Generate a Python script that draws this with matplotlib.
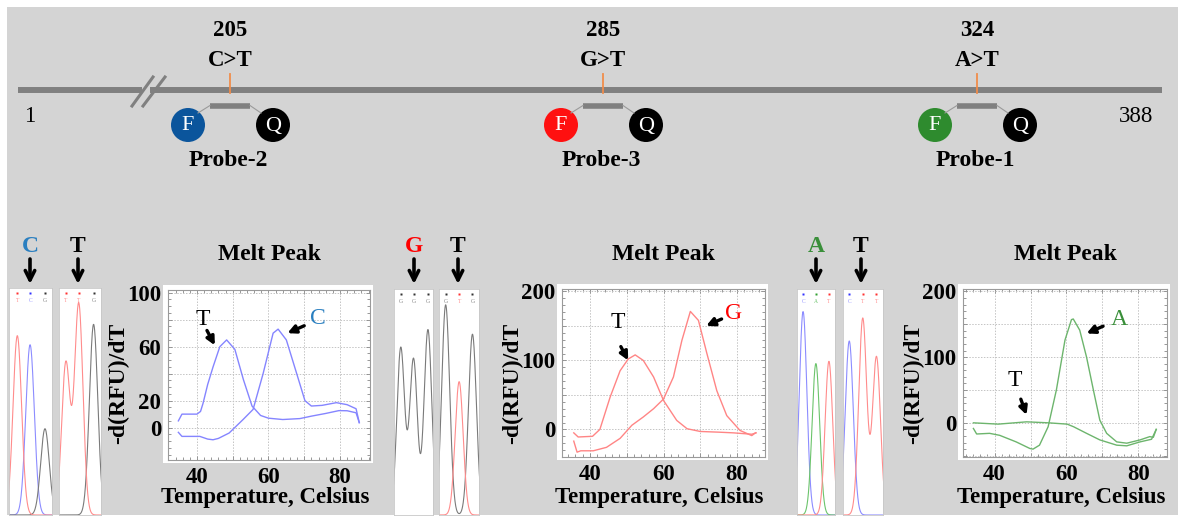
import numpy as np
import matplotlib
matplotlib.use('Agg')
import matplotlib.pyplot as plt
from matplotlib.patches import Rectangle, Circle
from matplotlib.ticker import MultipleLocator

plt.rcParams['font.family'] = ['Liberation Serif', 'DejaVu Serif']

W, H = 1185, 522

# ---------------- data ----------------
seq_start, seq_end = 1, 388
mut_pos = [205, 285, 324]
mut_change = ['C>T', 'G>T', 'A>T']
probe_names = ['Probe-2', 'Probe-3', 'Probe-1']
fluor_colors = ['#0b559c', '#ff1010', '#2e8b2e']

# melt peak curves, -d(RFU)/dT vs temperature
g1_temp_T = [34.8, 35.8, 40, 41, 41.7, 43, 44.5, 46.4, 48.3, 50.6, 53, 55.4, 57.8, 60, 64, 68.8, 72, 76, 79.7, 82, 84.5, 85.4]
g1_dfdt_T = [5, 10, 10, 12, 18, 32, 45, 60, 65, 58, 35.5, 16, 9, 7, 6, 6.7, 8.5, 10.5, 12.6, 12.5, 11, 3.7]
g1_temp_C = [34.8, 35.8, 40.8, 43, 44.5, 46, 49, 52.9, 55.7, 58.5, 61.3, 62.7, 65, 67.9, 70.2, 72, 75, 79, 82, 84.5, 85.4]
g1_dfdt_C = [-3.5, -6.5, -6.5, -8.5, -9, -8, -4, 6, 13.5, 40, 70, 73, 65, 40, 20, 16, 16.5, 18.5, 17, 14, 3.7]

g2_temp_T = [35.6, 36.8, 40.7, 42.7, 45.5, 48.2, 50.4, 52.3, 54.5, 57.3, 60, 63.6, 66.4, 70, 75, 79, 84, 85.2]
g2_dfdt_T = [-5, -11, -10, 0, 47, 85, 102, 108, 100, 76, 42, 13, 1, -3, -4, -5, -7, -5]
g2_temp_G = [35.6, 36.5, 37.5, 40.9, 44.5, 48.2, 51.4, 54.5, 57.3, 60, 62.7, 65, 67.3, 69.5, 71.8, 74.5, 77.2, 80.8, 84, 85]
g2_dfdt_G = [-17, -33, -31, -31, -26, -13, 6, 18, 30, 44, 76, 129, 171, 158, 110, 56, 20, -1.5, -9, -5]

g3_temp_A = [34.1, 35, 38.6, 41.4, 46, 49.8, 50.7, 52.5, 54.9, 57.2, 59.6, 61.4, 61.9, 63.7, 65.6, 67.5, 69.3, 71.2, 74, 76.8, 80.5, 83.2, 84.2, 85]
g3_dfdt_A = [-8.6, -17, -16, -19, -29, -39, -40, -34, -6, 50, 126, 157, 158, 141, 100, 50, 4, -16, -29, -31, -26, -21, -22, -10]
g3_temp_T = [34.1, 41, 48.9, 55, 60.2, 62, 65.6, 69.3, 74, 76.8, 80.5, 83.7, 85]
g3_dfdt_T = [0, -2, 1.5, 0, -2, -6, -16, -26, -34, -35, -29, -25, -10]

# sequencing chromatograms: base call, peak position (base slot), peak height (%)
g1_wt_bases, g1_wt_pos, g1_wt_height = ['T', 'C', 'G'], [0.58, 1.47, 2.51], [79, 75, 38]
g1_mt_bases, g1_mt_pos, g1_mt_height = ['T', 'T', 'G'], [0.49, 1.41, 2.47], [67, 93, 84]
g2_wt_bases, g2_wt_pos, g2_wt_height = ['G', 'G', 'G'], [0.52, 1.50, 2.61], [74, 69, 82]
g2_mt_bases, g2_mt_pos, g2_mt_height = ['G', 'T', 'G'], [0.50, 1.51, 2.51], [93, 59, 80]
g3_wt_bases, g3_wt_pos, g3_wt_height = ['C', 'A', 'T'], [0.48, 1.49, 2.52], [90, 67, 68]
g3_mt_bases, g3_mt_pos, g3_mt_height = ['C', 'T', 'T'], [0.47, 1.48, 2.51], [77, 87, 70]

# ---------------- style / layout ----------------
base_colors = {'T': '#ff8c8c', 'C': '#8c8cff', 'G': '#7a7a7a', 'A': '#6cc46c'}
dot_colors = {'T': '#ff3030', 'C': '#3030ff', 'G': '#333333', 'A': '#30a030'}
label_colors = {'C': '#2a7fc0', 'G': '#ff0000', 'A': '#3a8f3a', 'T': 'black'}
PEAK_SIGMA = 0.3
mut_x = [230, 603, 977]      # layout x of each mutation on the schematic
LINE_Y = 90

fig = plt.figure(figsize=(W / 100, H / 100), dpi=100)
fig.patch.set_facecolor('white')

cv = fig.add_axes([0, 0, 1, 1])
cv.set_xlim(0, W)
cv.set_ylim(H, 0)
cv.axis('off')
cv.add_patch(Rectangle((7, 7), 1171, 508, facecolor='#d4d4d4', edgecolor='none', zorder=0))


def px_axes(l, t, r, b):
    return fig.add_axes([l / W, 1 - b / H, (r - l) / W, (b - t) / H])


# ---------- top schematic ----------
gray = '#808080'
cv.plot([18, 142], [LINE_Y, LINE_Y], color=gray, lw=4.3, solid_capstyle='butt')
cv.plot([150, 1162], [LINE_Y, LINE_Y], color=gray, lw=4.3, solid_capstyle='butt')
cv.plot([132, 153], [106, 77], color=gray, lw=2.2)
cv.plot([143, 165], [106, 77], color=gray, lw=2.2)
cv.text(30, 117, str(seq_start), fontsize=16.5, ha='center', va='center')
cv.text(1136, 116, str(seq_end), fontsize=16.5, ha='center', va='center')

for x, pos, chg, name, fc in zip(mut_x, mut_pos, mut_change, probe_names, fluor_colors):
    cv.text(x, 31, str(pos), fontsize=16.5, fontweight='bold', ha='center', va='center')
    cv.text(x, 60, chg, fontsize=16.5, fontweight='bold', ha='center', va='center')
    cv.plot([x, x], [74, 93], color='#f08c4a', lw=1.3, zorder=3)
    cv.plot([x - 20, x + 20], [105.5, 105.5], color=gray, lw=4, solid_capstyle='butt')
    cv.plot([x - 20, x - 32], [105.5, 113], color='#9a9a9a', lw=0.8)
    cv.plot([x + 20, x + 31], [105.5, 113], color='#9a9a9a', lw=0.8)
    cv.add_patch(Circle((x - 42, 125), 17, facecolor=fc, edgecolor='none'))
    cv.add_patch(Circle((x + 43, 125), 17, facecolor='black', edgecolor='none'))
    cv.text(x - 42, 126, 'F', color='white', fontsize=16, ha='center', va='center')
    cv.text(x + 43, 126, 'Q', color='white', fontsize=16, ha='center', va='center')
    cv.text(x - 2, 161, name, fontsize=17, fontweight='bold', ha='center', va='center')

# ---------- chromatograms ----------
chroms = [
    (g1_wt_bases, g1_wt_pos, g1_wt_height, (9, 288, 52, 515)),
    (g1_mt_bases, g1_mt_pos, g1_mt_height, (59, 288, 101, 515)),
    (g2_wt_bases, g2_wt_pos, g2_wt_height, (394, 289, 433, 515)),
    (g2_mt_bases, g2_mt_pos, g2_mt_height, (439, 289, 479, 515)),
    (g3_wt_bases, g3_wt_pos, g3_wt_height, (797, 289, 835, 515)),
    (g3_mt_bases, g3_mt_pos, g3_mt_height, (843, 289, 883, 515)),
]
xs = np.linspace(-0.6, 3.6, 300)
for bases, pos, height, rect in chroms:
    ax = px_axes(*rect)
    ax.set_facecolor('white')
    for b in set(bases):
        trace = np.zeros_like(xs)
        for bb, p, h in zip(bases, pos, height):
            if bb == b:
                trace += h * np.exp(-0.5 * ((xs - p) / PEAK_SIGMA) ** 2)
        ax.plot(xs, trace, color=base_colors[b], lw=0.8)
    for bb, p in zip(bases, pos):
        ax.plot(p, 97.6, marker='s', ms=1.8, color=dot_colors[bb], mec='none')
        ax.text(p, 94.6, bb, fontsize=4, color=base_colors[bb], ha='center', va='center')
    ax.set_xlim(0, 3)
    ax.set_ylim(0, 100)
    ax.set_xticks([])
    ax.set_yticks([])
    for s in ax.spines.values():
        s.set_color('#c8c8c8')
        s.set_linewidth(0.6)

# base labels with arrows above chromatograms
top_labels = [('C', 30), ('T', 78), ('G', 414), ('T', 458), ('A', 816), ('T', 861)]
for letter, x in top_labels:
    cv.text(x, 247, letter, fontsize=17, fontweight='bold', color=label_colors[letter],
            ha='center', va='center')
    cv.annotate('', xy=(x, 284), xytext=(x, 259),
                arrowprops=dict(arrowstyle='->', lw=2.6, color='black', mutation_scale=17,
                                shrinkA=0, shrinkB=0))

# ---------- melt peak plots ----------
melts = [
    dict(rect=(168, 290, 370, 460), xlim=(31.9, 88.4), ylim=(-24, 102),
         yticks=[0, 20, 40, 60, 80, 100], ylabels=['0', '20', '', '60', '', '100'], ymin=5,
         curves=[(g1_temp_T, g1_dfdt_T), (g1_temp_C, g1_dfdt_C)], color='#8585ff',
         labels=[('T', 'black', (41.7, 80), (45, 61), (42.8, 72)),
                 ('C', label_colors['C'], (73.8, 81), (65.3, 70), (70, 75.5))]),
    dict(rect=(562, 289, 765, 457), xlim=(32.4, 87.6), ylim=(-40, 203.5),
         yticks=[0, 50, 100, 150, 200], ylabels=['0', '', '100', '', '200'], ymin=10,
         curves=[(g2_temp_T, g2_dfdt_T), (g2_temp_G, g2_dfdt_G)], color='#ff8585',
         labels=[('T', 'black', (47.6, 155), (50.4, 100), (48.4, 120)),
                 ('G', label_colors['G'], (79, 168), (71.6, 150), (75.8, 160))]),
    dict(rect=(963, 289, 1167, 457), xlim=(31.2, 88), ylim=(-52, 203.6),
         yticks=[-50, 0, 50, 100, 150, 200], ylabels=['', '0', '', '100', '', '200'], ymin=10,
         curves=[(g3_temp_A, g3_dfdt_A), (g3_temp_T, g3_dfdt_T)], color='#6db56d',
         labels=[('T', 'black', (45.6, 64), (48.9, 12), (47.3, 36)),
                 ('A', label_colors['A'], (74.6, 157), (65.6, 136), (70.2, 147))]),
]

for m in melts:
    l, t, r, b = m['rect']
    cv.add_patch(Rectangle((l - 5, t - 5), r - l + 8, b - t + 8, facecolor='white',
                           edgecolor='none', zorder=1))
    ax = px_axes(l, t, r, b)
    ax.set_facecolor('white')
    for tx, ty in m['curves']:
        ax.plot(tx, ty, color=m['color'], lw=1.0)
    ax.set_xlim(*m['xlim'])
    ax.set_ylim(*m['ylim'])
    ax.set_xticks([40, 50, 60, 70, 80])
    ax.set_xticklabels(['40', '', '60', '', '80'], fontsize=16.5, fontweight='bold')
    ax.set_yticks(m['yticks'])
    ax.set_yticklabels(m['ylabels'], fontsize=16.5, fontweight='bold')
    ax.xaxis.set_minor_locator(MultipleLocator(2))
    ax.yaxis.set_minor_locator(MultipleLocator(m['ymin']))
    ax.grid(True, which='major', color='#c4c4c4', lw=0.7, ls=(0, (1.5, 1.5)))
    ax.tick_params(which='both', direction='in', top=True, right=True, color='#888888', width=0.6)
    ax.tick_params(which='major', length=3, pad=5)
    ax.tick_params(which='minor', length=2)
    for s in ax.spines.values():
        s.set_color('#9a9a9a')
        s.set_linewidth(0.8)
    for txt, col, tpos, head, tail in m['labels']:
        ax.text(tpos[0], tpos[1], txt, color=col, fontsize=17, ha='center', va='center')
        ax.annotate('', xy=head, xytext=tail,
                    arrowprops=dict(arrowstyle='-|>', lw=2.4, color='black', mutation_scale=12,
                                    shrinkA=0, shrinkB=0))
    cx = (l + r) / 2
    cv.text(cx, 255, 'Melt Peak', fontsize=17, fontweight='bold', ha='center', va='center')
    cv.text(cx - 4, 497, 'Temperature, Celsius', fontsize=16.5, fontweight='bold',
            ha='center', va='center')
    cv.text(l - 49, 383, '-d(RFU)/dT', fontsize=17, fontweight='bold', rotation=90,
            ha='center', va='center')

fig.savefig('out.png', dpi=100)
